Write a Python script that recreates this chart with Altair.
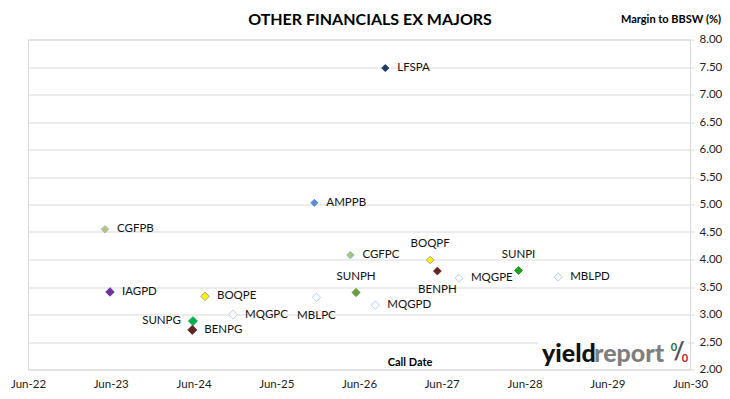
import altair as alt
import pandas as pd

names = ["LFSPA", "AMPPB", "CGFPB", "CGFPC", "BOQPF", "BENPH", "MQGPE", "SUNPI", "MBLPD",
         "SUNPH", "MBLPC", "MQGPD", "IAGPD", "BOQPE", "MQGPC", "SUNPG", "BENPG"]
call_dates = ["2026-09-25", "2025-11-16", "2023-05-07", "2026-04-24", "2027-04-11", "2027-05-13",
              "2027-08-16", "2028-05-05", "2028-10-27", "2026-05-19", "2025-11-25", "2026-08-12",
              "2023-05-29", "2024-07-21", "2024-11-22", "2024-05-29", "2024-05-26"]
margins = [7.48, 5.03, 4.55, 4.08, 3.99, 3.79, 3.66, 3.80, 3.68,
           3.40, 3.31, 3.17, 3.41, 3.33, 3.00, 2.88, 2.72]
label_pos = ["right", "right", "right", "right", "above", "below", "right", "above", "right",
             "above", "below", "right", "right", "right", "right", "left", "right"]
fills = ["#1F3A63", "#558ED5", "#C3C36B", "#A9C47F", "#FFF200", "#632523", "#FFFFFF", "#21A121", "#FFFFFF",
         "#6A9B3C", "#FFFFFF", "#FFFFFF", "#7030A0", "#FFF200", "#FFFFFF", "#00B050", "#632523"]
strokes = ["#1F3A63", "#558ED5", "#95B3D7", "#95B3D7", "#A6A6A6", "#632523", "#B9CDE5", "#21A121", "#B9CDE5",
           "#6A9B3C", "#B9CDE5", "#B9CDE5", "#7030A0", "#A6A6A6", "#B9CDE5", "#00B050", "#632523"]
sizes = [49, 81, 49, 49, 49, 49, 49, 49, 49, 49, 49, 49, 49, 49, 49, 49, 49]
y_ticks = [2.0, 2.5, 3.0, 3.5, 4.0, 4.5, 5.0, 5.5, 6.0, 6.5, 7.0, 7.5, 8.0]
x_years = [2022, 2023, 2024, 2025, 2026, 2027, 2028, 2029, 2030]

df = pd.DataFrame({"name": names, "date": call_dates, "margin": margins, "pos": label_pos})

FONT = "Lato"
W, H = 662, 330

x_enc = alt.X("date:T",
              scale=alt.Scale(type="utc",
                              domain=[alt.DateTime(year=2022, month=6, date=1, utc=True),
                                      alt.DateTime(year=2030, month=6, date=1, utc=True)]),
              axis=alt.Axis(values=[alt.DateTime(year=y, month=6, date=1, utc=True) for y in x_years],
                            format="%b-%y", grid=False, domain=False, ticks=False, labelOverlap=False,
                            labelFlush=False,
                            labelPadding=9, labelFont=FONT, labelFontSize=11.5, labelColor="#222222",
                            title=None))
y_enc = alt.Y("margin:Q",
              scale=alt.Scale(domain=[2, 8], nice=False, zero=False),
              axis=alt.Axis(orient="right", values=y_ticks, format=".2f", gridColor="#D9D9D9",
                            domainColor="#D9D9D9", tickColor="#D9D9D9", tickSize=4, labelPadding=5,
                            labelOverlap=False, labelFlush=False,
                            labelFont=FONT, labelFontSize=11.5, labelColor="#222222", title=None))

base = alt.Chart(df)

points = base.mark_point(shape="diamond", filled=True, strokeWidth=1, opacity=1).encode(
    x=x_enc, y=y_enc,
    fill=alt.Fill("name:N", scale=alt.Scale(domain=names, range=fills), legend=None),
    stroke=alt.Stroke("name:N", scale=alt.Scale(domain=names, range=strokes), legend=None),
    size=alt.Size("name:N", scale=alt.Scale(domain=names, range=sizes), legend=None),
)

def label_layer(pos, **kw):
    return base.transform_filter(alt.datum.pos == pos).mark_text(
        font=FONT, fontSize=11.5, color="#111111", **kw
    ).encode(x=x_enc, y=y_enc, text="name:N")

labels = [
    label_layer("right", align="left", baseline="middle", dx=12),
    label_layer("left", align="right", baseline="middle", dx=-12),
    label_layer("above", align="center", baseline="middle", dy=-16),
    label_layer("below", align="center", baseline="middle", dy=19),
]

deco = alt.Chart(pd.DataFrame({"k": [0]}))

logo_bg = deco.mark_rect(color="white").encode(
    x=alt.value(510), x2=alt.value(660), y=alt.value(302), y2=alt.value(329.5))

title = deco.mark_text(text="OTHER FINANCIALS EX MAJORS", font=FONT, fontSize=16, fontWeight="bold",
                       color="#000000", align="center", baseline="alphabetic").encode(
    x=alt.value(342), y=alt.value(-14.5))
ytitle = deco.mark_text(text="Margin to BBSW (%)", font=FONT, fontSize=11, fontWeight="bold",
                        color="#000000", align="right", baseline="alphabetic").encode(
    x=alt.value(693), y=alt.value(-16.5))
xtitle = deco.mark_text(text="Call Date", font=FONT, fontSize=11, fontWeight="bold",
                        color="#000000", align="center", baseline="alphabetic").encode(
    x=alt.value(382), y=alt.value(326.5))
logo1 = deco.mark_text(text="yield", font=FONT, fontSize=25, fontWeight=900, color="#111111",
                       align="left", baseline="alphabetic").encode(x=alt.value(514), y=alt.value(322))
logo2 = deco.mark_text(text="report", font=FONT, fontSize=25, fontWeight=900, color="#7F7F7F",
                       align="left", baseline="alphabetic").encode(x=alt.value(566), y=alt.value(322))
slash = deco.mark_text(text="/", font=FONT, fontSize=24, fontWeight="bold", color="#555555",
                       align="center", baseline="middle").encode(x=alt.value(651), y=alt.value(313))
o1 = deco.mark_text(text="0", font=FONT, fontSize=11, fontWeight="bold", color="#1E6B2E",
                    align="center", baseline="middle").encode(x=alt.value(646), y=alt.value(308))
o2 = deco.mark_text(text="0", font=FONT, fontSize=11, fontWeight="bold", color="#C8102E",
                    align="center", baseline="middle").encode(x=alt.value(657), y=alt.value(319))

chart = alt.layer(points, *labels, logo_bg, title, ytitle, xtitle, logo1, logo2, slash, o1, o2).properties(
    width=W, height=H,
    autosize=alt.AutoSizeParams(type="none"),
    padding={"left": 20, "top": 31.5, "right": 32, "bottom": 21},
    background="white",
).configure_view(stroke="#D9D9D9", strokeWidth=1)

chart.save("out.html", embed_options={"renderer": "svg", "actions": False})
